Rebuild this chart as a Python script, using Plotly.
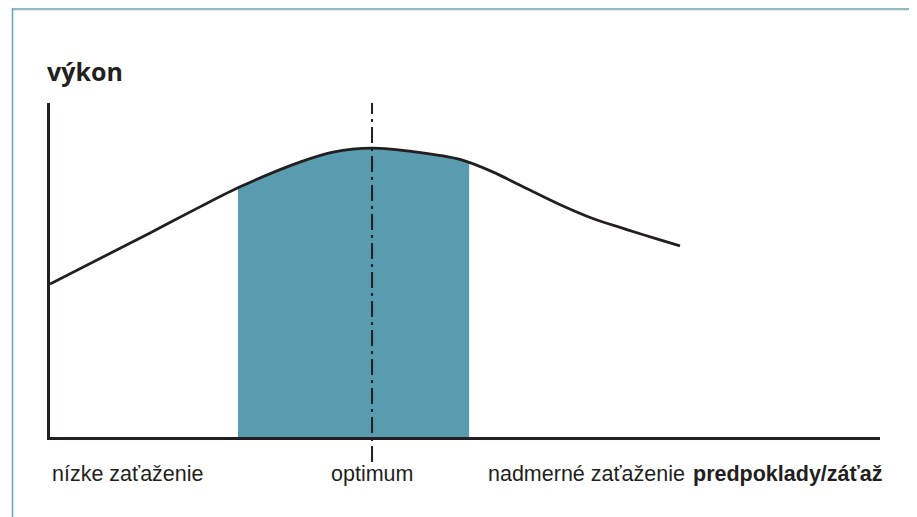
import numpy as np
import plotly.graph_objects as go

# Curve: performance vs. load (abstract units)
curve_x = [0, 12.05, 18.07, 22.9, 30.1, 34.1, 38.8, 44.2, 49.4, 53.4, 57.5, 61.4, 65.4, 69.5, 73.5, 75.9]
curve_y = [45.8, 61.1, 68.9, 74.9, 82.3, 85.3, 86.5, 85.3, 83.1, 79.3, 74.3, 69.6, 65.4, 62.1, 59.0, 57.2]

# Optimal zone and optimum
zone_start = 22.65
zone_end = 50.5
optimum_x = 38.8

# Labels
y_title = "výkon"
x_title = "predpoklady/záťaž"
x_labels = ["nízke zaťaženie", "optimum", "nadmerné zaťaženie"]
x_label_pos = [0, 38.8, 52.5]
x_label_anchor = ["left", "center", "left"]

fill_color = "#5a9caf"
ink = "#231f20"

# Build fill polygon from the curve
cx = np.array(curve_x)
cy = np.array(curve_y)
inner = (cx > zone_start) & (cx < zone_end)
fx = [zone_start] + list(cx[inner]) + [zone_end]
fy = [float(np.interp(zone_start, cx, cy))] + list(cy[inner]) + [float(np.interp(zone_end, cx, cy))]

fig = go.Figure()
fig.add_trace(go.Scatter(x=fx, y=fy, mode="lines", line=dict(width=0, shape="spline", smoothing=0.8),
                         fill="tozeroy", fillcolor=fill_color, hoverinfo="skip", showlegend=False))
fig.add_trace(go.Scatter(x=curve_x, y=curve_y, mode="lines",
                         line=dict(color=ink, width=2.8, shape="spline", smoothing=0.8),
                         showlegend=False))

# optimum dash-dot line (extends below axis)
fig.add_shape(type="line", xref="x", yref="paper", x0=optimum_x, x1=optimum_x, y0=-0.075, y1=1.0,
              line=dict(color=ink, width=2, dash="16px,5px,3px,5px"))

# frame border (top and left)
fig.add_shape(type="line", xref="paper", yref="paper", x0=(12 - 50) / 830, x1=1.06, y0=(437 - 9) / 334,
              y1=(437 - 9) / 334, line=dict(color="#8fbcc3", width=2.5))
fig.add_shape(type="line", xref="paper", yref="paper", x0=(12.5 - 50) / 830, x1=(12.5 - 50) / 830,
              y0=(437 - 8) / 334, y1=-0.3, line=dict(color="#5fa3c2", width=1.5))

annotations = []
for lab, xp, anc in zip(x_labels, x_label_pos, x_label_anchor):
    annotations.append(dict(x=xp, y=(437 - 474) / 334, xref="x", yref="paper", text=lab, showarrow=False,
                            xanchor=anc, yanchor="middle",
                            font=dict(family="Liberation Sans, Arial", size=21.5, color=ink)))
annotations.append(dict(x=(885 - 50) / 830, y=(437 - 474) / 334, xref="paper", yref="paper",
                        text="<b>" + x_title + "</b>", showarrow=False, xanchor="right", yanchor="middle",
                        font=dict(family="Liberation Sans, Arial", size=21.5, color=ink)))
annotations.append(dict(x=(45 - 50) / 830, y=(437 - 71) / 334, xref="paper", yref="paper",
                        text="<b>" + y_title + "</b>", showarrow=False, xanchor="left", yanchor="middle",
                        font=dict(family="Open Sans, Noto Sans", size=25, color=ink)))

fig.update_layout(
    width=917, height=517,
    margin=dict(l=42, r=45, t=95, b=88),
    paper_bgcolor="white", plot_bgcolor="white",
    annotations=annotations,
    xaxis=dict(range=[0, 100], showgrid=False, zeroline=False, showticklabels=False, ticks="",
               showline=True, linecolor=ink, linewidth=2.5),
    yaxis=dict(range=[0, 100], showgrid=False, zeroline=False, showticklabels=False, ticks="",
               showline=True, linecolor=ink, linewidth=2.5),
)

fig.write_html("out.html")
